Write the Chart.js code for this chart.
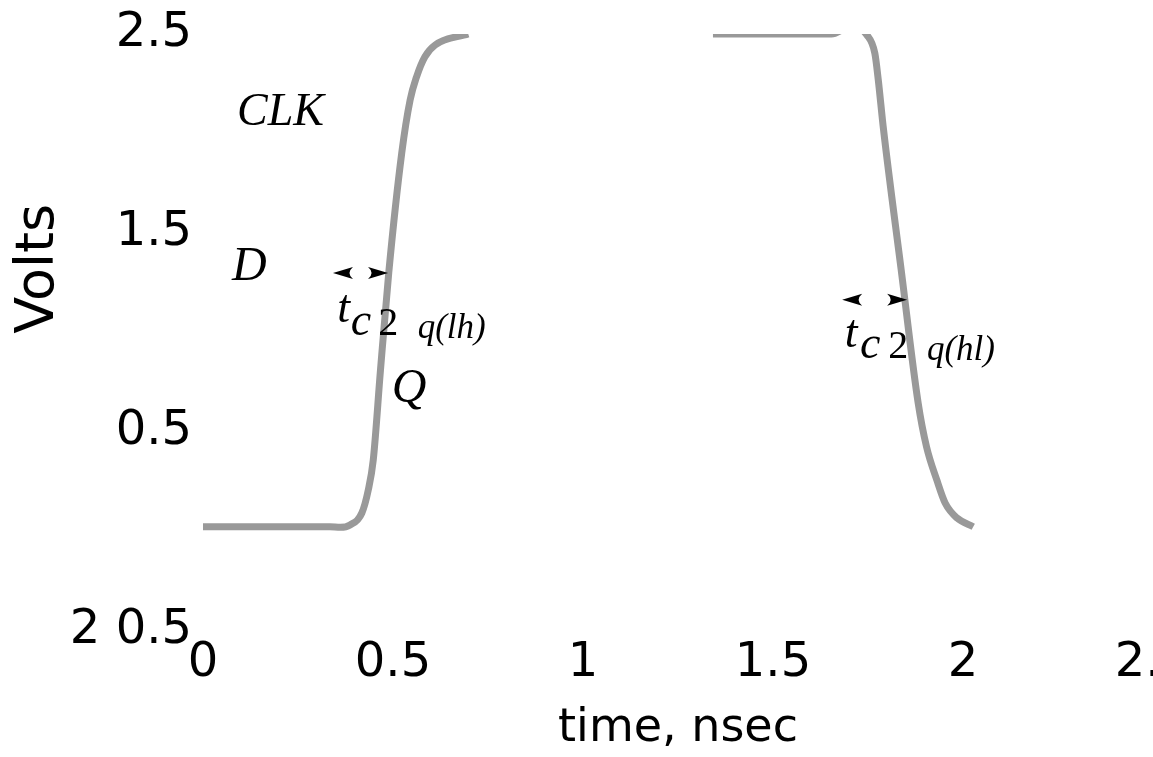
<!DOCTYPE html>
<html>
<head>
<meta charset="utf-8">
<title>CLK to Q delay</title>
<script src="https://cdn.jsdelivr.net/npm/chart.js@4/dist/chart.umd.min.js"></script>
<style>
  html, body { margin: 0; padding: 0; background: #fff; overflow: hidden; }
</style>
</head>
<body>
<canvas id="chart" width="1153" height="757"></canvas>
<script>
// Q output, rising edge (time in ns, volts)
const riseTime  = [0, 0.334, 0.361, 0.387, 0.418, 0.435, 0.448, 0.467, 0.489, 0.523, 0.545, 0.562, 0.584, 0.611, 0.698]
const riseVolts = [0.024, 0.024, 0.021, 0.033, 0.093, 0.209, 0.359, 0.81, 1.304, 1.902, 2.168, 2.285, 2.386, 2.445, 2.5]

// Q output, falling edge
const fallTime  = [1.342, 1.654, 1.707, 1.747, 1.768, 1.777, 1.79, 1.837, 1.882, 1.904, 1.931, 1.953, 1.984, 2.027]
const fallVolts = [2.5, 2.5, 2.54, 2.495, 2.403, 2.27, 2.034, 1.32, 0.646, 0.426, 0.259, 0.143, 0.068, 0.024]

const xTicks = [0, 0.5, 1, 1.5, 2, 2.5]
const yTicks = [-0.5, 0.5, 1.5, 2.5]
const yTickText = { '-0.5': '2 0.5' }

// text labels placed in data units (time, volts), left aligned on baseline
const notes = [
  { text: 'CLK',   t: 0.0895, v: 2.043, font: 'italic 46px "Liberation Serif"' },
  { text: 'D',     t: 0.076,  v: 1.264, font: 'italic 48px "Liberation Serif"' },
  { text: 't',     t: 0.353,  v: 1.053, font: 'italic 46px "Liberation Serif"' },
  { text: 'c',     t: 0.389,  v: 0.987, font: 'italic 46px "Liberation Serif"' },
  { text: '2',     t: 0.461,  v: 0.987, font: '40px "Liberation Serif"' },
  { text: 'q(lh)', t: 0.565,  v: 0.97,  font: 'italic 35px "Liberation Serif"' },
  { text: 'Q',     t: 0.497,  v: 0.651, font: 'italic 48px "Liberation Serif"' },
  { text: 't',     t: 1.689,  v: 0.927, font: 'italic 46px "Liberation Serif"' },
  { text: 'c',     t: 1.729,  v: 0.872, font: 'italic 46px "Liberation Serif"' },
  { text: '2',     t: 1.803,  v: 0.872, font: '40px "Liberation Serif"' },
  { text: 'q(hl)', t: 1.905,  v: 0.862, font: 'italic 35px "Liberation Serif"' },
]
const arrows = [
  { left: 0.342, right: 0.487, v: 1.299 },
  { left: 1.682, right: 1.853, v: 1.165 },
]
const yTitle = { text: 'Volts', x: 39, v: 1.32, font: '54px "DejaVu Sans"' }

const toPoints = (ts, vs) => ts.map((t, i) => ({ x: t, y: vs[i] }))

const notesPlugin = {
  id: 'notes',
  afterDraw(chart) {
    const ctx = chart.ctx
    const xs = chart.scales.x, ys = chart.scales.y
    ctx.save()
    ctx.fillStyle = '#000'
    ctx.textAlign = 'left'
    ctx.textBaseline = 'alphabetic'
    notes.forEach(n => {
      ctx.font = n.font
      ctx.fillText(n.text, xs.getPixelForValue(n.t), ys.getPixelForValue(n.v))
    })

    const head = (x, y, dir) => {
      ctx.beginPath()
      ctx.moveTo(x, y)
      ctx.lineTo(x - dir * 20, y - 6)
      ctx.quadraticCurveTo(x - dir * 13, y, x - dir * 20, y + 6)
      ctx.closePath()
      ctx.fill()
    }
    arrows.forEach(a => {
      const y = ys.getPixelForValue(a.v)
      head(xs.getPixelForValue(a.left), y, -1)
      head(xs.getPixelForValue(a.right), y, 1)
    })

    // y axis title sits higher than the middle of the axis in the original
    ctx.translate(yTitle.x, ys.getPixelForValue(yTitle.v))
    ctx.rotate(-Math.PI / 2)
    ctx.font = yTitle.font
    ctx.textAlign = 'center'
    ctx.textBaseline = 'middle'
    ctx.fillText(yTitle.text, 0, 0)
    ctx.restore()
  }
}

const lineStyle = {
  borderColor: '#999999',
  borderWidth: 7,
  pointRadius: 0,
  fill: false,
  cubicInterpolationMode: 'monotone',
  borderJoinStyle: 'round',
}

new Chart(document.getElementById('chart'), {
  type: 'line',
  data: {
    datasets: [
      { ...lineStyle, data: toPoints(riseTime, riseVolts) },
      { ...lineStyle, data: toPoints(fallTime, fallVolts) },
    ]
  },
  options: {
    responsive: false,
    animation: false,
    layout: { padding: { top: 34, right: 0, bottom: 0, left: 0 } },
    plugins: {
      legend: { display: false },
      tooltip: { enabled: false },
    },
    scales: {
      x: {
        type: 'linear',
        min: 0,
        max: 2.5,
        grid: { display: false, drawTicks: false },
        border: { display: false },
        afterBuildTicks: s => { s.ticks = xTicks.map(v => ({ value: v })) },
        afterFit: s => { s.height = 126; s.paddingLeft = 0; s.paddingRight = 0 },
        ticks: {
          color: '#000',
          padding: 4,
          maxRotation: 0,
          font: { family: 'DejaVu Sans', size: 48 },
          callback: v => String(v),
        },
        title: {
          display: true,
          text: 'time, nsec',
          color: '#000',
          padding: { top: 0, bottom: 0 },
          font: { family: 'DejaVu Sans', size: 46 },
        },
      },
      y: {
        type: 'linear',
        min: -0.5,
        max: 2.5,
        grid: { display: false, drawTicks: false },
        border: { display: false },
        afterBuildTicks: s => { s.ticks = yTicks.map(v => ({ value: v })) },
        afterFit: s => { s.width = 203; s.paddingTop = 0; s.paddingBottom = 0 },
        ticks: {
          color: '#000',
          padding: 11,
          font: { family: 'DejaVu Sans', size: 48 },
          callback: v => yTickText[String(v)] || String(v),
        },
        title: { display: false },
      },
    },
  },
  plugins: [notesPlugin],
})
</script>
</body>
</html>
